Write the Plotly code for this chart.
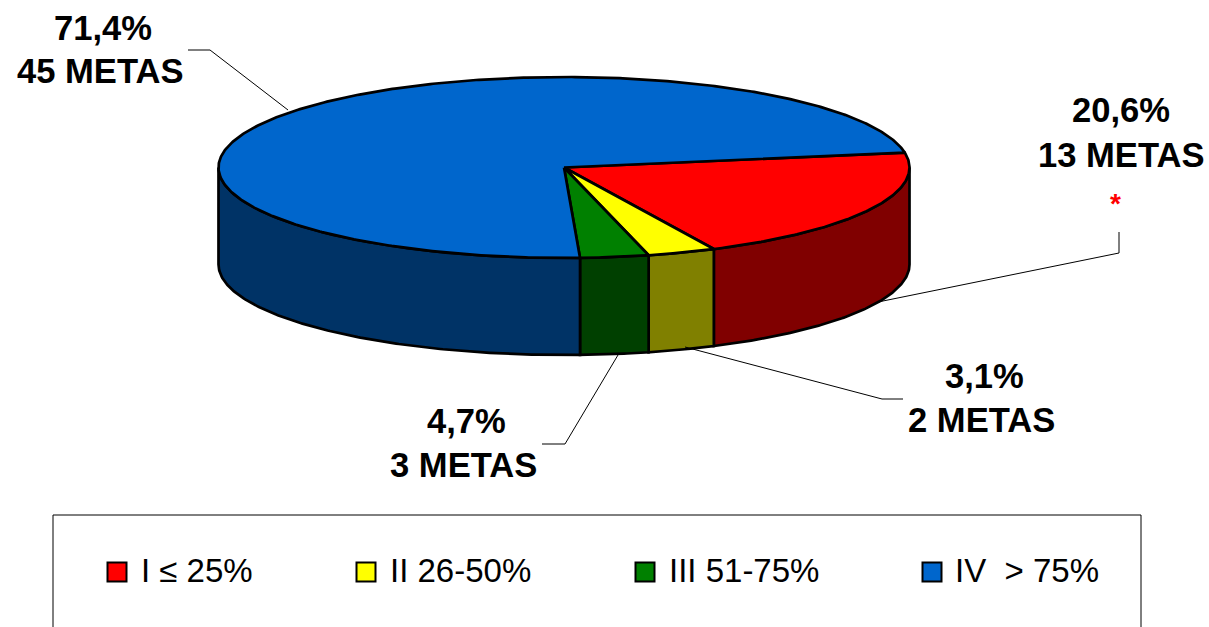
import numpy as np
import plotly.graph_objects as go

# Data
categories = ["I ≤ 25%", "II 26-50%", "III 51-75%", "IV\u00a0 > 75%"]
metas = [13, 2, 3, 45]
percent_labels = ["20,6%", "3,1%", "4,7%", "71,4%"]
# Slice shares as actually drawn in the picture (%)
drawn_share = [20.5, 3.2, 3.2, 73.1]
top_colors = ["#FF0000", "#FFFF00", "#008000", "#0066CC"]
wall_colors = ["#800000", "#808000", "#004000", "#003366"]

# Geometry of the tilted pie (in pixels)
CX, CY, RX, RY, DEPTH = 564, 167.5, 345.5, 90.5, 97
START_DEG = 9.5
W, H = 1209, 627


def arc(t0, t1, dy=0.0):
    ts = np.radians(np.linspace(t0, t1, max(int(abs(t1 - t0) * 2), 2)))
    return CX + RX * np.cos(ts), CY - RY * np.sin(ts) + dy


fig = go.Figure()

# Slice angle spans, clockwise from the start angle
spans = []
a = START_DEG
for s in drawn_share:
    b = a - s * 3.6
    spans.append((a, b))
    a = b

# Side walls: only the front half (angles 0 to -180) is visible
for (a, b), name, col in zip(spans, categories, wall_colors):
    lo, hi = max(b, -180), min(a, 0)
    if lo >= hi:
        continue
    x1, y1 = arc(hi, lo)
    x2, y2 = arc(lo, hi, DEPTH)
    fig.add_trace(go.Scatter(
        x=np.r_[x1, x2, x1[0]], y=np.r_[y1, y2, y1[0]], mode="lines",
        fill="toself", fillcolor=col, line=dict(color="black", width=2.7),
        hoverinfo="skip", showlegend=False))

# Top faces
for (a, b), name, col, pct, m in zip(spans, categories, top_colors, percent_labels, metas):
    x, y = arc(a, b)
    fig.add_trace(go.Scatter(
        x=np.r_[CX, x, CX], y=np.r_[CY, y, CY], mode="lines",
        fill="toself", fillcolor=col, line=dict(color="black", width=2.7),
        name=name, text=f"{pct} - {m} METAS", hoverinfo="name+text", showlegend=False))

# Leader lines
leaders = [
    ([188, 210, 288], [50, 50, 110]),
    ([1119, 1119, 878], [232, 253, 302]),
    ([903, 882, 685], [399, 399, 347]),
    ([542, 565, 618], [444, 444, 355]),
]
for lx, ly in leaders:
    fig.add_trace(go.Scatter(x=lx, y=ly, mode="lines", line=dict(color="black", width=1),
                             hoverinfo="skip", showlegend=False))

# Legend swatches
legend_x = [117, 366, 645, 932]
legend_text_x = [139, 388, 667, 953]
LEGEND_Y = 572
fig.add_trace(go.Scatter(
    x=legend_x, y=[LEGEND_Y] * 4, mode="markers",
    marker=dict(symbol="square", size=19, color=top_colors, line=dict(color="black", width=2)),
    hoverinfo="skip", showlegend=False))

annotations = []
label_pos = [(1121, 110, 1121, 155), (984, 376, 981, 420), (466, 421, 463, 465), (103, 28, 100, 71)]
FS = 34.6
for pct, m, (x1, y1, x2, y2) in zip(percent_labels, metas, label_pos):
    annotations.append(dict(x=x1, y=y1, text=f"<b>{pct}</b>", showarrow=False, xanchor="center", yanchor="middle",
                            font=dict(size=FS, color="black", family="Liberation Sans")))
    annotations.append(dict(x=x2, y=y2, text=f"<b>{m} METAS</b>", showarrow=False, xanchor="center", yanchor="middle",
                            font=dict(size=FS, color="black", family="Liberation Sans")))
annotations.append(dict(x=1115, y=203, text="<b>*</b>", showarrow=False, xanchor="center", yanchor="middle",
                        font=dict(size=28, color="#FF0000", family="Liberation Sans")))
for tx, cat in zip(legend_text_x, categories):
    annotations.append(dict(x=tx, y=570, text=cat, showarrow=False, xanchor="left", yanchor="middle",
                            font=dict(size=33, color="black", family="Liberation Sans")))

fig.update_layout(
    width=W, height=H, margin=dict(l=0, r=0, t=0, b=0),
    paper_bgcolor="white", plot_bgcolor="white", showlegend=False,
    xaxis=dict(range=[0, W], visible=False, fixedrange=True),
    yaxis=dict(range=[H, 0], visible=False, fixedrange=True),
    annotations=annotations,
    shapes=[dict(type="rect", xref="x", yref="y", x0=53, x1=1141, y0=515, y1=700,
                 line=dict(color="black", width=1), fillcolor="rgba(0,0,0,0)", layer="below")],
)

fig.write_html("out.html", config={"displayModeBar": False},
               post_script="document.body.style.margin='0';document.documentElement.style.overflow='hidden';")
